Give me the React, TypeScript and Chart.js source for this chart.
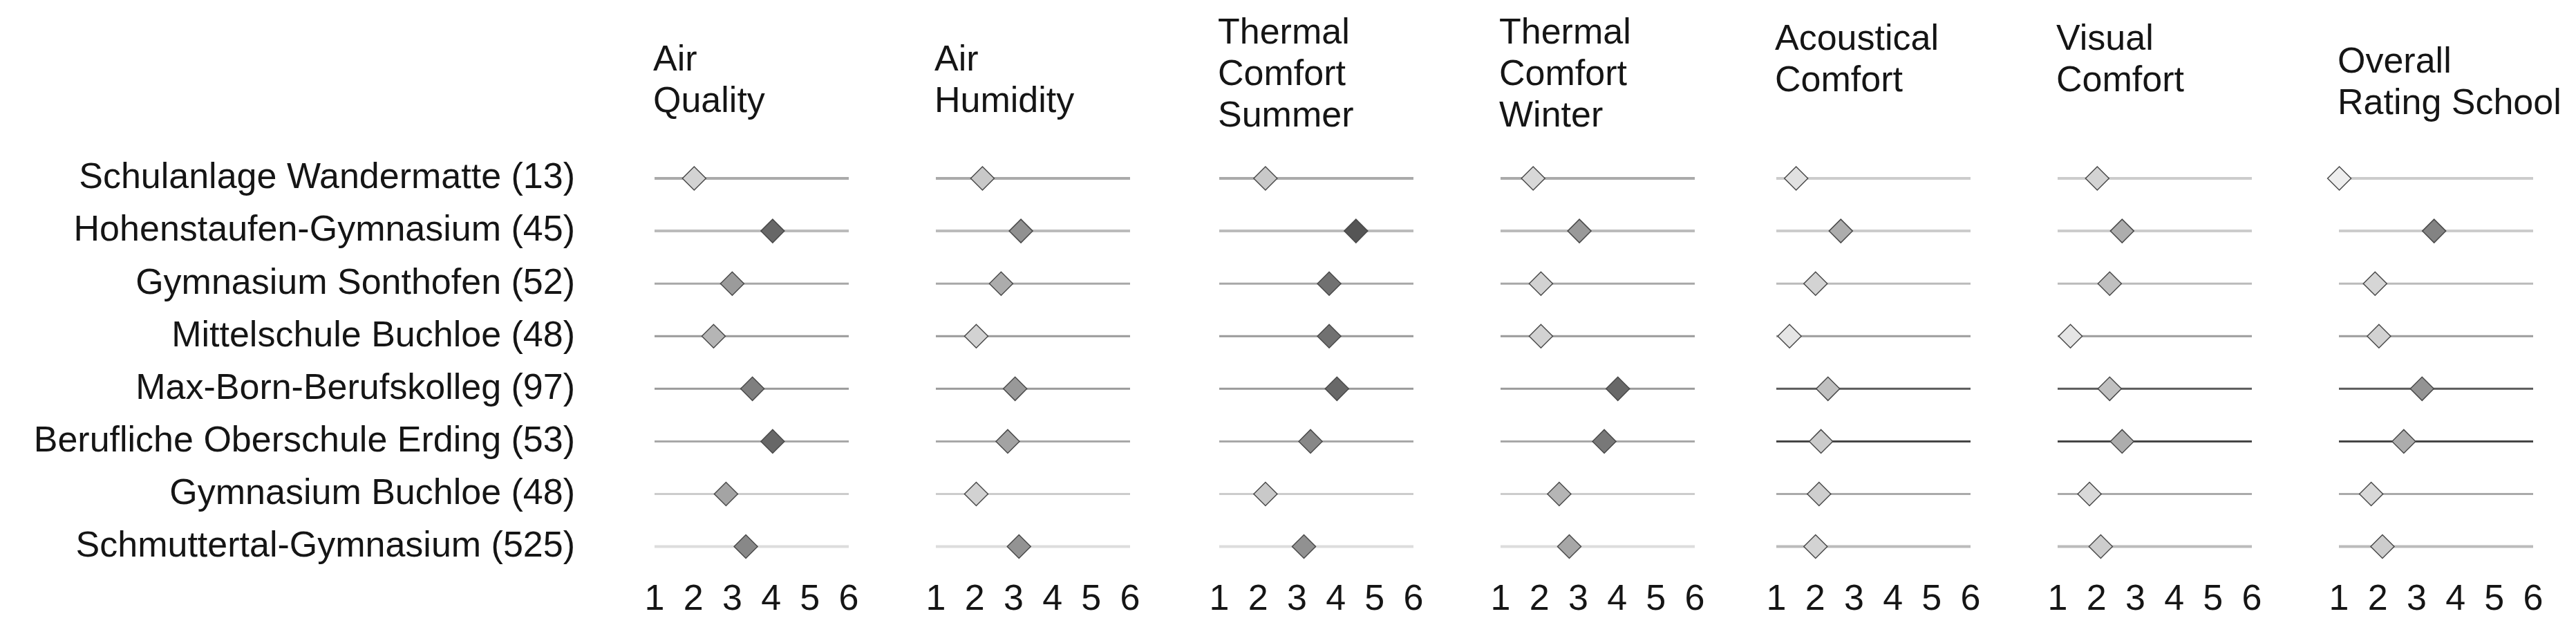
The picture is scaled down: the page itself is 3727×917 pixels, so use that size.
import React, { useEffect, useRef } from 'react';
import { Chart, registerables } from 'chart.js';

Chart.register(...registerables);

// ---------- data ----------
const schools = [
  'Schulanlage Wandermatte (13)',
  'Hohenstaufen-Gymnasium (45)',
  'Gymnasium Sonthofen (52)',
  'Mittelschule Buchloe (48)',
  'Max-Born-Berufskolleg (97)',
  'Berufliche Oberschule Erding (53)',
  'Gymnasium Buchloe (48)',
  'Schmuttertal-Gymnasium (525)',
];

const panelTitles = [
  ['Air', 'Quality'],
  ['Air', 'Humidity'],
  ['Thermal', 'Comfort', 'Summer'],
  ['Thermal', 'Comfort', 'Winter'],
  ['Acoustical', 'Comfort'],
  ['Visual', 'Comfort'],
  ['Overall', 'Rating School'],
];

const airQuality = [2.02, 4.04, 3.0, 2.52, 3.52, 4.04, 2.84, 3.35];
const airHumidity = [2.2, 3.19, 2.68, 2.04, 3.04, 2.85, 2.04, 3.14];
const thermalSummer = [2.19, 4.52, 3.83, 3.83, 4.03, 3.35, 2.19, 3.18];
const thermalWinter = [1.84, 3.03, 2.04, 2.04, 4.02, 3.67, 2.51, 2.77];
const acousticalComfort = [1.51, 2.66, 2.01, 1.34, 2.33, 2.15, 2.1, 2.01];
const visualComfort = [2.02, 2.66, 2.34, 1.33, 2.34, 2.66, 1.82, 2.11];
const overallRating = [1.01, 3.45, 1.93, 2.03, 3.14, 2.67, 1.83, 2.12];

const panelValues = [
  airQuality,
  airHumidity,
  thermalSummer,
  thermalWinter,
  acousticalComfort,
  visualComfort,
  overallRating,
];

const xTickValues = [1, 2, 3, 4, 5, 6];
const xMin = 1;
const xMax = 6;

// ---------- styles / layout ----------
const FONT_FAMILY = "'Liberation Sans', Arial, Helvetica, sans-serif";
const FONT_SIZE = 52;
const TEXT_COLOR = '#151515';
const PANEL_LEFT = [947, 1354, 1764, 2171, 2570, 2977, 3384];
const PLOT_W = 281;
const SIDE_PAD = 48;
const CANVAS_H = 917;
const TITLE_BOX_H = 220;
const TITLE_LINE_PX = 60;
const TITLE_FIRST_Y = [88, 88, 49, 49, 58, 58, 91];
const LABEL_RIGHT = 832;

const lineColorsA = ['#aaaaaa', '#bbbbbb', '#a8a8a8', '#9a9a9a', '#9a9a9a', '#a8a8a8', '#cccccc', '#dddddd'];
const lineColorsB = ['#cccccc', '#cccccc', '#bbbbbb', '#9c9c9c', '#5a5a5a', '#454545', '#aaaaaa', '#bbbbbb'];
const panelLineColors = [lineColorsA, lineColorsA, lineColorsA, lineColorsA, lineColorsB, lineColorsB, lineColorsB];
const lineWidths = [4, 4, 3, 3, 3, 3, 3, 4];

const shadeStops: [number, number][] = [
  [1, 238], [2, 212], [2.5, 182], [3, 155], [3.5, 128], [4, 105], [4.5, 85], [6, 60],
];

function shadeFor(v: number): string {
  let g = shadeStops[shadeStops.length - 1][1];
  for (let i = 0; i < shadeStops.length - 1; i++) {
    const [a, ga] = shadeStops[i];
    const [b, gb] = shadeStops[i + 1];
    if (v <= a) { g = ga; break; }
    if (v <= b) { g = ga + ((v - a) / (b - a)) * (gb - ga); break; }
  }
  const c = Math.round(g);
  return `rgb(${c},${c},${c})`;
}

const panelTitlePlugin = {
  id: 'panelTitle',
  afterDraw(chart: any, _args: any, opts: any) {
    const lines: string[] = opts.lines || [];
    const ctx = chart.ctx;
    ctx.save();
    ctx.fillStyle = TEXT_COLOR;
    ctx.font = `normal ${FONT_SIZE}px ${FONT_FAMILY}`;
    ctx.textAlign = 'left';
    ctx.textBaseline = 'middle';
    lines.forEach((t, i) => {
      ctx.fillText(t, chart.chartArea.left - 2, opts.firstY + i * TITLE_LINE_PX);
    });
    ctx.restore();
  },
};

function Panel({ index }: { index: number }) {
  const ref = useRef<HTMLCanvasElement | null>(null);
  const isFirst = index === 0;
  const left = isFirst ? 0 : PANEL_LEFT[index] - SIDE_PAD;
  const width = isFirst ? PANEL_LEFT[0] + PLOT_W + SIDE_PAD : PLOT_W + 2 * SIDE_PAD;

  useEffect(() => {
    const canvas = ref.current;
    if (!canvas) return;
    const values = panelValues[index];
    const colors = panelLineColors[index];
    const font = { family: FONT_FAMILY, size: FONT_SIZE, weight: 'normal' as const };

    const lineSets = schools.map((s, r) => ({
      label: 'row' + r,
      data: [{ x: xMin, y: s }, { x: xMax, y: s }],
      showLine: true,
      borderColor: colors[r],
      borderWidth: lineWidths[r],
      pointRadius: 0,
      pointHoverRadius: 0,
      order: 1,
      clip: false as const,
    }));

    const diamonds = {
      label: 'mean',
      data: values.map((v, r) => ({ x: v, y: schools[r] })),
      pointStyle: 'rectRot' as const,
      pointRadius: 17,
      pointHoverRadius: 17,
      backgroundColor: values.map(shadeFor),
      borderColor: '#4a4a4a',
      borderWidth: 1.5,
      showLine: false,
      order: 0,
      clip: false as const,
    };

    const chart = new Chart(canvas, {
      type: 'scatter',
      data: { datasets: [diamonds as any, ...lineSets] },
      plugins: [panelTitlePlugin as any],
      options: {
        responsive: false,
        animation: false,
        events: [],
        layout: {
          padding: { left: isFirst ? 0 : SIDE_PAD, right: SIDE_PAD, top: TITLE_BOX_H, bottom: 10 },
        },
        plugins: {
          legend: { display: false },
          tooltip: { enabled: false },
          title: { display: false },
          panelTitle: { lines: panelTitles[index], firstY: TITLE_FIRST_Y[index] },
        },
        scales: {
          x: {
            type: 'linear',
            min: xMin,
            max: xMax,
            grid: { display: false, drawTicks: false },
            border: { display: false },
            afterBuildTicks: (s: any) => {
              s.ticks = xTickValues.map((v) => ({ value: v }));
            },
            ticks: {
              autoSkip: false,
              maxRotation: 0,
              padding: 8,
              color: TEXT_COLOR,
              font,
            },
          },
          y: {
            type: 'category',
            labels: schools,
            offset: true,
            display: isFirst,
            grid: { display: false, drawTicks: false },
            border: { display: false },
            ticks: { padding: PANEL_LEFT[0] - LABEL_RIGHT, color: TEXT_COLOR, font, autoSkip: false },
            afterFit: (s: any) => {
              if (isFirst) {
                s.width = PANEL_LEFT[0];
                s.paddingTop = 0;
                s.paddingBottom = 0;
              }
            },
          },
        },
      } as any,
    });
    return () => chart.destroy();
  }, [index]);

  return (
    <div style={{ position: 'absolute', left, top: 0, width, height: CANVAS_H }}>
      <canvas ref={ref} width={width} height={CANVAS_H} style={{ width, height: CANVAS_H, display: 'block' }} />
    </div>
  );
}

export default function App() {
  return (
    <div style={{ position: 'absolute', left: 0, top: 0, width: 3727, height: CANVAS_H, background: '#ffffff', overflow: 'hidden' }}>
      {panelTitles.map((_, i) => (
        <Panel key={i} index={i} />
      ))}
    </div>
  );
}
